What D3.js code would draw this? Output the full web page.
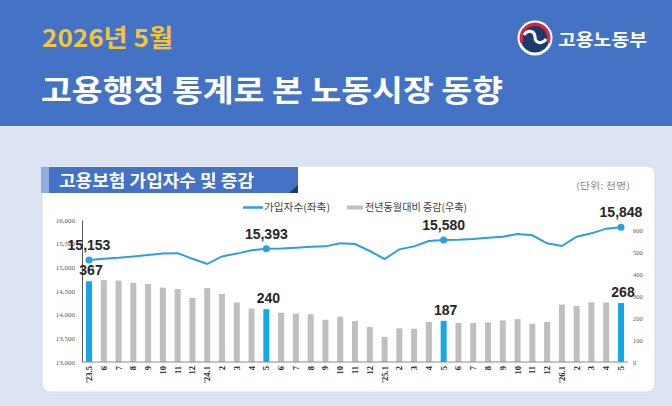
<!DOCTYPE html>
<meta charset="utf-8">
<style>

body{
  margin: 0;
  background: #dce4f4;
  font-family: "Noto Sans CJK KR", "Noto Sans", sans-serif;
}

svg{ display: block; }

.axis text{
  font-family: "Liberation Serif", "DejaVu Serif", serif;
  fill: #595959;
}

.xlab{
  font-family: "Liberation Serif", "DejaVu Serif", serif;
  font-weight: bold;
  font-size: 8.5px;
  fill: #262626;
}

.val{
  font-family: "Liberation Sans", Arial, sans-serif;
  font-weight: bold;
  font-size: 14px;
  fill: #262626;
}

</style>

<svg id="chart"></svg>

<script src="https://cdn.jsdelivr.net/npm/d3@7/dist/d3.min.js"></script>
<script>

// months '23.5 .. '26.5
var months = ["'23.5","6","7","8","9","10","11","12",
              "'24.1","2","3","4","5","6","7","8","9","10","11","12",
              "'25.1","2","3","4","5","6","7","8","9","10","11","12",
              "'26.1","2","3","4","5"]

// 가입자수 (천명, 좌축)
var subscribers = [15153,15180,15200,15230,15260,15290,15300,15180,
                   15070,15230,15290,15360,15393,15400,15415,15436,15443,15507,15493,15345,
                   15176,15380,15443,15556,15580,15585,15600,15625,15647,15704,15676,15507,
                   15450,15647,15718,15817,15848]

// 전년동월대비 증감 (천명, 우축)
var change = [367,372,370,360,355,338,332,292,
              336,309,270,243,240,224,220,217,192,206,186,159,
              114,153,151,182,187,177,177,180,189,195,174,182,
              261,255,271,270,268]

var leftTicks  = [13000,13500,14000,14500,15000,15500,16000]
var rightTicks = [0,100,200,300,400,500,600]

var width = 672,
    height = 406

var blue = '#2aa0dc',
    barBlue = '#14a9e6',
    barGray = '#bfbfbf'

function isMay(m){ return m === '5' || m.slice(-2) === '.5' }

// text stretched to the width it has in the picture
function label(sel, x, y, len, size, txt){
  return sel.append('text')
      .attr('x', x).attr('y', y)
      .attr('font-size', size)
      .attr('textLength', len).attr('lengthAdjust', 'spacingAndGlyphs')
      .text(txt)
}

var svg = d3.select('#chart').attr('width', width).attr('height', height)

// background + header band
svg.append('rect').attr('width', width).attr('height', height).attr('fill', '#dce4f4')
svg.append('rect').attr('width', width).attr('height', 126).attr('fill', '#4472c4')

label(svg, 42, 47, 131, 24.5, '2026년 5월')
    .attr('font-weight', 'bold').attr('fill', '#f4c53a')

label(svg, 41, 101, 462, 30, '고용행정 통계로 본 노동시장 동향')
    .attr('font-weight', 'bold').attr('fill', 'white')

// ministry logo
var logo = svg.append('g').attr('transform', 'translate(535,38)')
logo.append('circle').attr('r', 17.5).attr('fill', 'white')
logo.append('circle').attr('r', 14.5).attr('fill', '#1c3a6e')
logo.append('path')
    .attr('d', d3.arc()({innerRadius: 12, outerRadius: 15.5, startAngle: -1.9, endAngle: 1.9}))
    .attr('fill', '#d7263d')
logo.append('path')
    .attr('d', 'M-11,-3 C-6,-10 0,-6 0,-1 C0,5 7,7 11,1')
    .attr('fill', 'none').attr('stroke', 'white').attr('stroke-width', 3)
label(svg, 558, 46, 89, 17, '고용노동부')
    .attr('font-weight', 'bold').attr('fill', 'white')

// card
svg.append('rect')
    .attr('x', 42).attr('y', 166).attr('width', 613).attr('height', 226)
    .attr('rx', 8).attr('fill', 'white')
    .attr('stroke', '#cdd6ea').attr('stroke-width', 0.8)

// section title
svg.append('rect').attr('x', 41).attr('y', 167).attr('width', 9).attr('height', 26).attr('fill', '#8faadc')
svg.append('rect').attr('x', 49).attr('y', 167).attr('width', 249).attr('height', 26).attr('fill', '#4472c4')
svg.append('path').attr('d', 'M289,193L298,193L298,185Z').attr('fill', '#1f3864')
label(svg, 59, 187, 195, 16.5, '고용보험 가입자수 및 증감')
    .attr('font-weight', 'bold').attr('fill', 'white')

label(svg, 576, 189, 54, 9.5, '(단위: 천명)')
    .attr('fill', '#8c8c8c')

// legend
var legend = svg.append('g').attr('fill', '#404040')
legend.append('line')
    .attr('x1', 243).attr('x2', 263).attr('y1', 207.5).attr('y2', 207.5)
    .attr('stroke', blue).attr('stroke-width', 2.5)
label(legend, 264, 211, 66, 10, '가입자수(좌축)')
legend.append('rect')
    .attr('x', 347).attr('y', 205.5).attr('width', 16).attr('height', 4)
    .attr('fill', barGray)
label(legend, 365, 211, 102, 10, '전년동월대비 증감(우축)')

// scales
var x = d3.scalePoint().domain(d3.range(months.length)).range([89, 621])
var yL = d3.scaleLinear().domain([13000, 16000]).range([362, 220])
var yR = d3.scaleLinear().domain([0, 600]).range([362, 230])
var barW = 6

// axes
svg.append('g')
    .attr('class', 'axis')
    .attr('transform', 'translate(82,0)')
    .call(d3.axisLeft(yL).tickValues(leftTicks).tickFormat(d3.format(',')).tickSize(0).tickPadding(7))
    .call(function(g){
      g.select('.domain').attr('stroke', '#595959').attr('stroke-width', 1)
      g.selectAll('text').attr('font-size', 7)
    })

svg.append('g')
    .attr('class', 'axis')
    .attr('transform', 'translate(628,0)')
    .call(d3.axisRight(yR).tickValues(rightTicks).tickSize(0).tickPadding(5))
    .call(function(g){
      g.select('.domain').remove()
      g.selectAll('text').attr('font-size', 6.5)
    })

// bars
svg.append('g').selectAll('rect')
    .data(change)
  .enter().append('rect')
    .attr('x', function(d, i){ return x(i) - barW / 2 })
    .attr('y', function(d){ return yR(d) })
    .attr('width', barW)
    .attr('height', function(d){ return yR(0) - yR(d) })
    .attr('fill', function(d, i){ return isMay(months[i]) ? barBlue : barGray })

// baseline
svg.append('line')
    .attr('x1', 82).attr('x2', 628).attr('y1', yR(0)).attr('y2', yR(0))
    .attr('stroke', '#8c8c8c').attr('stroke-width', 1)

// x labels
svg.append('g').selectAll('text')
    .data(months)
  .enter().append('text')
    .attr('class', 'xlab')
    .attr('transform', function(d, i){ return 'translate(' + (x(i) + 3) + ',366) rotate(-90)' })
    .attr('text-anchor', 'end')
    .text(function(d){ return d })

// line
var line = d3.line()
    .x(function(d, i){ return x(i) })
    .y(function(d){ return yL(d) })

svg.append('path')
    .datum(subscribers)
    .attr('d', line)
    .attr('fill', 'none')
    .attr('stroke', blue)
    .attr('stroke-width', 2)

var mayIdx = d3.range(months.length).filter(function(i){ return isMay(months[i]) })

svg.append('g').selectAll('circle')
    .data(mayIdx)
  .enter().append('circle')
    .attr('cx', function(i){ return x(i) })
    .attr('cy', function(i){ return yL(subscribers[i]) })
    .attr('r', 3.5)
    .attr('fill', blue)

// value labels
svg.append('g').selectAll('text')
    .data(mayIdx)
  .enter().append('text')
    .attr('class', 'val')
    .attr('x', function(i){ return x(i) })
    .attr('y', function(i){ return yL(subscribers[i]) - 10 })
    .attr('text-anchor', 'middle')
    .text(function(i){ return d3.format(',')(subscribers[i]) })

svg.append('g').selectAll('text')
    .data(mayIdx)
  .enter().append('text')
    .attr('class', 'val')
    .attr('x', function(i){ return x(i) + 2 })
    .attr('y', function(i){ return yR(change[i]) - 6 })
    .attr('text-anchor', 'middle')
    .text(function(i){ return change[i] })

</script>
